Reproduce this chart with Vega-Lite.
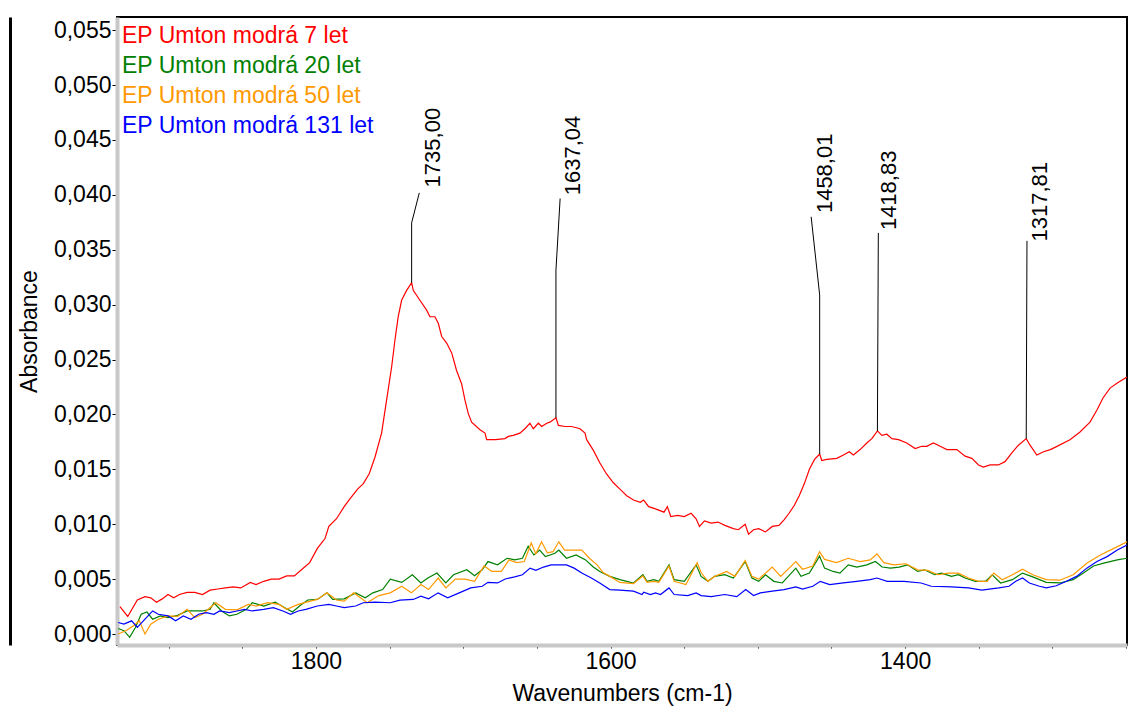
{
"$schema": "https://vega.github.io/schema/vega-lite/v6.json",
"width": 1010, "height": 628,
"autosize": {"type": "none"},
"padding": {"left": 117, "top": 17, "right": 2, "bottom": 68},
"background": "white",
"config": {
 "font": "Liberation Sans",
 "view": {"stroke": "#000000", "strokeWidth": 2},
 "axis": {"labelFont": "Liberation Sans", "titleFont": "Liberation Sans", "labelFontSize": 23, "titleFontSize": 23, "labelColor": "#000", "titleColor": "#000", "titleFontWeight": "normal", "grid": false, "tickColor": "#000", "domainColor": "#c8c8c8", "domainWidth": 4}
},
"datasets": {
"spec": [
{"s":"7 let","w":1933,"a":0.0025},{"s":"7 let","w":1927.7,"a":0.0016},{"s":"7 let","w":1921.2,"a":0.0031},{"s":"7 let","w":1916,"a":0.0034},{"s":"7 let","w":1912.1,"a":0.0033},{"s":"7 let","w":1908.2,"a":0.0029},{"s":"7 let","w":1904.3,"a":0.0032},{"s":"7 let","w":1900.4,"a":0.0036},{"s":"7 let","w":1896.5,"a":0.0033},{"s":"7 let","w":1892.6,"a":0.0036},{"s":"7 let","w":1887.4,"a":0.0038},{"s":"7 let","w":1882.2,"a":0.0038},{"s":"7 let","w":1877,"a":0.0036},{"s":"7 let","w":1871.8,"a":0.004},{"s":"7 let","w":1866.6,"a":0.0041},{"s":"7 let","w":1861.4,"a":0.0042},{"s":"7 let","w":1856.2,"a":0.0043},{"s":"7 let","w":1851,"a":0.0042},{"s":"7 let","w":1844.5,"a":0.0047},{"s":"7 let","w":1840.6,"a":0.0045},{"s":"7 let","w":1835.4,"a":0.0048},{"s":"7 let","w":1830.2,"a":0.005},{"s":"7 let","w":1825,"a":0.005},{"s":"7 let","w":1819.8,"a":0.0053},{"s":"7 let","w":1814.6,"a":0.0053},{"s":"7 let","w":1809.4,"a":0.0059},{"s":"7 let","w":1804.2,"a":0.0065},{"s":"7 let","w":1799,"a":0.0078},{"s":"7 let","w":1793.8,"a":0.0087},{"s":"7 let","w":1791.2,"a":0.0098},{"s":"7 let","w":1786,"a":0.0105},{"s":"7 let","w":1780.8,"a":0.0116},{"s":"7 let","w":1776.9,"a":0.0123},{"s":"7 let","w":1771.7,"a":0.0132},{"s":"7 let","w":1767.8,"a":0.0137},{"s":"7 let","w":1763.8,"a":0.0146},{"s":"7 let","w":1759.9,"a":0.0161},{"s":"7 let","w":1755.4,"a":0.0183},{"s":"7 let","w":1752,"a":0.0213},{"s":"7 let","w":1748.6,"a":0.0243},{"s":"7 let","w":1746.3,"a":0.0268},{"s":"7 let","w":1744.1,"a":0.0289},{"s":"7 let","w":1741.8,"a":0.0304},{"s":"7 let","w":1738.4,"a":0.0313},{"s":"7 let","w":1735,"a":0.032},{"s":"7 let","w":1733.9,"a":0.0313},{"s":"7 let","w":1729.4,"a":0.0304},{"s":"7 let","w":1724.8,"a":0.0295},{"s":"7 let","w":1722.6,"a":0.0289},{"s":"7 let","w":1719.2,"a":0.0289},{"s":"7 let","w":1716.9,"a":0.0283},{"s":"7 let","w":1714.6,"a":0.0271},{"s":"7 let","w":1711.2,"a":0.0265},{"s":"7 let","w":1707.8,"a":0.0256},{"s":"7 let","w":1704.5,"a":0.024},{"s":"7 let","w":1701.1,"a":0.0228},{"s":"7 let","w":1698.8,"a":0.0213},{"s":"7 let","w":1696.6,"a":0.0201},{"s":"7 let","w":1694.3,"a":0.0193},{"s":"7 let","w":1688.6,"a":0.0186},{"s":"7 let","w":1685.2,"a":0.0183},{"s":"7 let","w":1684.1,"a":0.0177},{"s":"7 let","w":1678,"a":0.0177},{"s":"7 let","w":1671.6,"a":0.0178},{"s":"7 let","w":1669.4,"a":0.018},{"s":"7 let","w":1666,"a":0.0181},{"s":"7 let","w":1661.5,"a":0.0183},{"s":"7 let","w":1658.1,"a":0.0187},{"s":"7 let","w":1654.7,"a":0.0192},{"s":"7 let","w":1652.4,"a":0.0187},{"s":"7 let","w":1649,"a":0.0192},{"s":"7 let","w":1646.7,"a":0.0189},{"s":"7 let","w":1643.3,"a":0.0192},{"s":"7 let","w":1641.1,"a":0.0193},{"s":"7 let","w":1637,"a":0.0197},{"s":"7 let","w":1635.4,"a":0.019},{"s":"7 let","w":1630.9,"a":0.0189},{"s":"7 let","w":1626.3,"a":0.0189},{"s":"7 let","w":1620.7,"a":0.0187},{"s":"7 let","w":1617.3,"a":0.0183},{"s":"7 let","w":1616.2,"a":0.0177},{"s":"7 let","w":1611.5,"a":0.0167},{"s":"7 let","w":1607.3,"a":0.0156},{"s":"7 let","w":1602.8,"a":0.0146},{"s":"7 let","w":1598.2,"a":0.0138},{"s":"7 let","w":1593.6,"a":0.0132},{"s":"7 let","w":1589,"a":0.0126},{"s":"7 let","w":1584.4,"a":0.0122},{"s":"7 let","w":1579.8,"a":0.012},{"s":"7 let","w":1577.5,"a":0.0122},{"s":"7 let","w":1574.1,"a":0.0116},{"s":"7 let","w":1569.5,"a":0.0114},{"s":"7 let","w":1563.7,"a":0.0111},{"s":"7 let","w":1561.4,"a":0.0116},{"s":"7 let","w":1559.1,"a":0.0107},{"s":"7 let","w":1554.5,"a":0.0108},{"s":"7 let","w":1549.9,"a":0.0107},{"s":"7 let","w":1545.3,"a":0.011},{"s":"7 let","w":1541.9,"a":0.0105},{"s":"7 let","w":1539.6,"a":0.0098},{"s":"7 let","w":1536.2,"a":0.0103},{"s":"7 let","w":1531.6,"a":0.0101},{"s":"7 let","w":1527,"a":0.0102},{"s":"7 let","w":1522.4,"a":0.0099},{"s":"7 let","w":1516.6,"a":0.0096},{"s":"7 let","w":1513.2,"a":0.0095},{"s":"7 let","w":1508.6,"a":0.01},{"s":"7 let","w":1506.3,"a":0.0091},{"s":"7 let","w":1502.9,"a":0.0095},{"s":"7 let","w":1499.4,"a":0.0096},{"s":"7 let","w":1494.8,"a":0.0093},{"s":"7 let","w":1490.2,"a":0.0098},{"s":"7 let","w":1485.7,"a":0.0099},{"s":"7 let","w":1482.2,"a":0.0104},{"s":"7 let","w":1478.8,"a":0.011},{"s":"7 let","w":1475.3,"a":0.0117},{"s":"7 let","w":1471.9,"a":0.0126},{"s":"7 let","w":1468.4,"a":0.0137},{"s":"7 let","w":1465,"a":0.015},{"s":"7 let","w":1461.5,"a":0.0159},{"s":"7 let","w":1458,"a":0.0164},{"s":"7 let","w":1456.6,"a":0.0158},{"s":"7 let","w":1453.2,"a":0.0159},{"s":"7 let","w":1446.4,"a":0.016},{"s":"7 let","w":1441.9,"a":0.0163},{"s":"7 let","w":1437.9,"a":0.0166},{"s":"7 let","w":1435.1,"a":0.0163},{"s":"7 let","w":1430.6,"a":0.0168},{"s":"7 let","w":1426,"a":0.0174},{"s":"7 let","w":1422.6,"a":0.0178},{"s":"7 let","w":1418.8,"a":0.0185},{"s":"7 let","w":1415.8,"a":0.0181},{"s":"7 let","w":1412.4,"a":0.0182},{"s":"7 let","w":1409,"a":0.0178},{"s":"7 let","w":1404.5,"a":0.0177},{"s":"7 let","w":1398.9,"a":0.0174},{"s":"7 let","w":1393.2,"a":0.0169},{"s":"7 let","w":1388.7,"a":0.0171},{"s":"7 let","w":1385.3,"a":0.0171},{"s":"7 let","w":1380.8,"a":0.0174},{"s":"7 let","w":1376.2,"a":0.0171},{"s":"7 let","w":1371.7,"a":0.0168},{"s":"7 let","w":1364.9,"a":0.0168},{"s":"7 let","w":1359.3,"a":0.0162},{"s":"7 let","w":1354.7,"a":0.016},{"s":"7 let","w":1350.2,"a":0.0154},{"s":"7 let","w":1346.9,"a":0.0152},{"s":"7 let","w":1342.3,"a":0.0154},{"s":"7 let","w":1336.7,"a":0.0154},{"s":"7 let","w":1332.2,"a":0.0157},{"s":"7 let","w":1327.6,"a":0.0165},{"s":"7 let","w":1323.1,"a":0.0172},{"s":"7 let","w":1317.8,"a":0.0178},{"s":"7 let","w":1315.2,"a":0.0172},{"s":"7 let","w":1310.6,"a":0.0163},{"s":"7 let","w":1306.1,"a":0.0166},{"s":"7 let","w":1301.5,"a":0.0168},{"s":"7 let","w":1298.3,"a":0.017},{"s":"7 let","w":1288.1,"a":0.0177},{"s":"7 let","w":1281.3,"a":0.0184},{"s":"7 let","w":1274.5,"a":0.0193},{"s":"7 let","w":1269.8,"a":0.0204},{"s":"7 let","w":1265.7,"a":0.0215},{"s":"7 let","w":1260.9,"a":0.0224},{"s":"7 let","w":1255.5,"a":0.0229},{"s":"7 let","w":1249.4,"a":0.0234},
{"s":"20 let","w":1934.2,"a":0.0005},{"s":"20 let","w":1930.3,"a":0.0003},{"s":"20 let","w":1926.4,"a":-0.0003},{"s":"20 let","w":1922.5,"a":0.0006},{"s":"20 let","w":1918.6,"a":0.0018},{"s":"20 let","w":1914.7,"a":0.002},{"s":"20 let","w":1910.8,"a":0.00135},{"s":"20 let","w":1905.6,"a":0.00165},{"s":"20 let","w":1900.4,"a":0.0015},{"s":"20 let","w":1893.9,"a":0.0017},{"s":"20 let","w":1887.4,"a":0.0021},{"s":"20 let","w":1882.2,"a":0.0021},{"s":"20 let","w":1877,"a":0.0021},{"s":"20 let","w":1871.8,"a":0.00225},{"s":"20 let","w":1869.2,"a":0.00285},{"s":"20 let","w":1864,"a":0.0021},{"s":"20 let","w":1858.8,"a":0.00165},{"s":"20 let","w":1853.6,"a":0.0018},{"s":"20 let","w":1847.1,"a":0.00225},{"s":"20 let","w":1843.2,"a":0.00285},{"s":"20 let","w":1835.4,"a":0.00255},{"s":"20 let","w":1827.6,"a":0.0029},{"s":"20 let","w":1821.1,"a":0.0024},{"s":"20 let","w":1815.9,"a":0.002},{"s":"20 let","w":1810.7,"a":0.0026},{"s":"20 let","w":1805.5,"a":0.0031},{"s":"20 let","w":1799,"a":0.00315},{"s":"20 let","w":1792.5,"a":0.00375},{"s":"20 let","w":1788.6,"a":0.00315},{"s":"20 let","w":1780.8,"a":0.0032},{"s":"20 let","w":1773,"a":0.00375},{"s":"20 let","w":1766.5,"a":0.0033},{"s":"20 let","w":1761.3,"a":0.00375},{"s":"20 let","w":1754.7,"a":0.00405},{"s":"20 let","w":1749.5,"a":0.005},{"s":"20 let","w":1741.7,"a":0.0047},{"s":"20 let","w":1734.5,"a":0.0054},{"s":"20 let","w":1728.7,"a":0.00465},{"s":"20 let","w":1724,"a":0.0051},{"s":"20 let","w":1717.8,"a":0.00555},{"s":"20 let","w":1711.8,"a":0.00465},{"s":"20 let","w":1706.6,"a":0.0054},{"s":"20 let","w":1697.5,"a":0.00585},{"s":"20 let","w":1692.3,"a":0.0053},{"s":"20 let","w":1687.1,"a":0.00585},{"s":"20 let","w":1683.2,"a":0.0066},{"s":"20 let","w":1676.7,"a":0.0063},{"s":"20 let","w":1670.2,"a":0.0069},{"s":"20 let","w":1665,"a":0.00675},{"s":"20 let","w":1659.8,"a":0.0069},{"s":"20 let","w":1655.9,"a":0.008},{"s":"20 let","w":1652,"a":0.0072},{"s":"20 let","w":1648.1,"a":0.00765},{"s":"20 let","w":1644.2,"a":0.00705},{"s":"20 let","w":1637.7,"a":0.00735},{"s":"20 let","w":1635.1,"a":0.00765},{"s":"20 let","w":1629.9,"a":0.0069},{"s":"20 let","w":1623.4,"a":0.0072},{"s":"20 let","w":1616.9,"a":0.00675},{"s":"20 let","w":1611.7,"a":0.0061},{"s":"20 let","w":1607.3,"a":0.0057},{"s":"20 let","w":1600.5,"a":0.00525},{"s":"20 let","w":1593.6,"a":0.00495},{"s":"20 let","w":1584.4,"a":0.00465},{"s":"20 let","w":1578,"a":0.0054},{"s":"20 let","w":1575.2,"a":0.0048},{"s":"20 let","w":1570.6,"a":0.00495},{"s":"20 let","w":1567.2,"a":0.0048},{"s":"20 let","w":1560.3,"a":0.0063},{"s":"20 let","w":1556.8,"a":0.00495},{"s":"20 let","w":1549.9,"a":0.0048},{"s":"20 let","w":1541.9,"a":0.0063},{"s":"20 let","w":1538.5,"a":0.00525},{"s":"20 let","w":1533.9,"a":0.0048},{"s":"20 let","w":1529.3,"a":0.00525},{"s":"20 let","w":1522.4,"a":0.0054},{"s":"20 let","w":1516.6,"a":0.0051},{"s":"20 let","w":1508.6,"a":0.0066},{"s":"20 let","w":1504,"a":0.0051},{"s":"20 let","w":1499.4,"a":0.0048},{"s":"20 let","w":1494.8,"a":0.0054},{"s":"20 let","w":1489.1,"a":0.0048},{"s":"20 let","w":1483.4,"a":0.00465},{"s":"20 let","w":1474.2,"a":0.006},{"s":"20 let","w":1470.7,"a":0.00525},{"s":"20 let","w":1465,"a":0.00555},{"s":"20 let","w":1458.1,"a":0.0071},{"s":"20 let","w":1454.7,"a":0.006},{"s":"20 let","w":1448.9,"a":0.0057},{"s":"20 let","w":1444.3,"a":0.00555},{"s":"20 let","w":1438.6,"a":0.0063},{"s":"20 let","w":1432.8,"a":0.0061},{"s":"20 let","w":1426,"a":0.0063},{"s":"20 let","w":1420.2,"a":0.0066},{"s":"20 let","w":1415.6,"a":0.0061},{"s":"20 let","w":1409.9,"a":0.006},{"s":"20 let","w":1404.1,"a":0.0061},{"s":"20 let","w":1398.4,"a":0.0063},{"s":"20 let","w":1391.5,"a":0.0057},{"s":"20 let","w":1386.9,"a":0.00585},{"s":"20 let","w":1380,"a":0.0054},{"s":"20 let","w":1375.4,"a":0.00555},{"s":"20 let","w":1368.5,"a":0.00525},{"s":"20 let","w":1363.9,"a":0.0054},{"s":"20 let","w":1359.3,"a":0.0051},{"s":"20 let","w":1352.4,"a":0.0048},{"s":"20 let","w":1345.5,"a":0.0048},{"s":"20 let","w":1340.9,"a":0.0054},{"s":"20 let","w":1335.2,"a":0.00465},{"s":"20 let","w":1327.2,"a":0.00495},{"s":"20 let","w":1320.3,"a":0.00555},{"s":"20 let","w":1313.4,"a":0.0052},{"s":"20 let","w":1304.2,"a":0.0047},{"s":"20 let","w":1295,"a":0.00465},{"s":"20 let","w":1285.9,"a":0.00495},{"s":"20 let","w":1279,"a":0.00555},{"s":"20 let","w":1272.1,"a":0.0062},{"s":"20 let","w":1265.2,"a":0.00645},{"s":"20 let","w":1256,"a":0.00675},{"s":"20 let","w":1249.4,"a":0.0069},
{"s":"50 let","w":1934.2,"a":0},{"s":"50 let","w":1929,"a":0.0003},{"s":"50 let","w":1923.8,"a":0.00075},{"s":"50 let","w":1919.9,"a":0.0012},{"s":"50 let","w":1916,"a":0},{"s":"50 let","w":1912.1,"a":0.0009},{"s":"50 let","w":1906.9,"a":0.00135},{"s":"50 let","w":1900.4,"a":0.00165},{"s":"50 let","w":1893.9,"a":0.0016},{"s":"50 let","w":1887.4,"a":0.00225},{"s":"50 let","w":1882.2,"a":0.0015},{"s":"50 let","w":1877,"a":0.0018},{"s":"50 let","w":1873.1,"a":0.00225},{"s":"50 let","w":1867.9,"a":0.00285},{"s":"50 let","w":1861.4,"a":0.00225},{"s":"50 let","w":1853.6,"a":0.0022},{"s":"50 let","w":1845.8,"a":0.0027},{"s":"50 let","w":1840.6,"a":0.00255},{"s":"50 let","w":1832.8,"a":0.00285},{"s":"50 let","w":1825,"a":0.0027},{"s":"50 let","w":1819.8,"a":0.00225},{"s":"50 let","w":1812,"a":0.0027},{"s":"50 let","w":1803.8,"a":0.003},{"s":"50 let","w":1799,"a":0.00315},{"s":"50 let","w":1792.5,"a":0.00375},{"s":"50 let","w":1786,"a":0.0031},{"s":"50 let","w":1780.8,"a":0.003},{"s":"50 let","w":1774.3,"a":0.00375},{"s":"50 let","w":1765.2,"a":0.00285},{"s":"50 let","w":1757.3,"a":0.0035},{"s":"50 let","w":1749.5,"a":0.00375},{"s":"50 let","w":1741.7,"a":0.00435},{"s":"50 let","w":1735.2,"a":0.00375},{"s":"50 let","w":1728.7,"a":0.0045},{"s":"50 let","w":1723.5,"a":0.00405},{"s":"50 let","w":1717,"a":0.0051},{"s":"50 let","w":1711.8,"a":0.0042},{"s":"50 let","w":1705.3,"a":0.005},{"s":"50 let","w":1698.8,"a":0.005},{"s":"50 let","w":1692.3,"a":0.0048},{"s":"50 let","w":1685.8,"a":0.0062},{"s":"50 let","w":1680.6,"a":0.0057},{"s":"50 let","w":1674.1,"a":0.0057},{"s":"50 let","w":1668.9,"a":0.00675},{"s":"50 let","w":1663.7,"a":0.0065},{"s":"50 let","w":1658.5,"a":0.0066},{"s":"50 let","w":1653.8,"a":0.0083},{"s":"50 let","w":1650.7,"a":0.0073},{"s":"50 let","w":1646.8,"a":0.0084},{"s":"50 let","w":1642.9,"a":0.0074},{"s":"50 let","w":1639,"a":0.0075},{"s":"50 let","w":1635.1,"a":0.0084},{"s":"50 let","w":1631.2,"a":0.00765},{"s":"50 let","w":1624.7,"a":0.00765},{"s":"50 let","w":1619.5,"a":0.00765},{"s":"50 let","w":1614.3,"a":0.0069},{"s":"50 let","w":1609.1,"a":0.0063},{"s":"50 let","w":1605,"a":0.0056},{"s":"50 let","w":1600.5,"a":0.00525},{"s":"50 let","w":1593.6,"a":0.0047},{"s":"50 let","w":1584.4,"a":0.0046},{"s":"50 let","w":1578,"a":0.0053},{"s":"50 let","w":1575.2,"a":0.0047},{"s":"50 let","w":1570.6,"a":0.0048},{"s":"50 let","w":1567.2,"a":0.0047},{"s":"50 let","w":1560.3,"a":0.0062},{"s":"50 let","w":1556.8,"a":0.0048},{"s":"50 let","w":1548.8,"a":0.0045},{"s":"50 let","w":1541.2,"a":0.0065},{"s":"50 let","w":1538.5,"a":0.0056},{"s":"50 let","w":1533.9,"a":0.0048},{"s":"50 let","w":1529.3,"a":0.00525},{"s":"50 let","w":1521.2,"a":0.0057},{"s":"50 let","w":1515.5,"a":0.00525},{"s":"50 let","w":1508.6,"a":0.0067},{"s":"50 let","w":1504,"a":0.00525},{"s":"50 let","w":1499.4,"a":0.005},{"s":"50 let","w":1490.2,"a":0.0061},{"s":"50 let","w":1484.5,"a":0.00525},{"s":"50 let","w":1474.2,"a":0.0066},{"s":"50 let","w":1469.6,"a":0.0059},{"s":"50 let","w":1462.7,"a":0.0062},{"s":"50 let","w":1458.1,"a":0.0075},{"s":"50 let","w":1454.7,"a":0.0068},{"s":"50 let","w":1446.6,"a":0.0065},{"s":"50 let","w":1438.6,"a":0.0069},{"s":"50 let","w":1430.5,"a":0.0066},{"s":"50 let","w":1423.7,"a":0.00675},{"s":"50 let","w":1419.1,"a":0.0073},{"s":"50 let","w":1414.5,"a":0.0065},{"s":"50 let","w":1407.6,"a":0.0063},{"s":"50 let","w":1399.5,"a":0.0064},{"s":"50 let","w":1391.5,"a":0.00585},{"s":"50 let","w":1384.6,"a":0.0058},{"s":"50 let","w":1377.7,"a":0.0054},{"s":"50 let","w":1370.8,"a":0.00555},{"s":"50 let","w":1363.9,"a":0.00555},{"s":"50 let","w":1357,"a":0.0051},{"s":"50 let","w":1350.2,"a":0.0048},{"s":"50 let","w":1344.4,"a":0.0048},{"s":"50 let","w":1339.8,"a":0.00555},{"s":"50 let","w":1334.1,"a":0.00495},{"s":"50 let","w":1327.2,"a":0.0054},{"s":"50 let","w":1320.3,"a":0.0059},{"s":"50 let","w":1313.4,"a":0.0054},{"s":"50 let","w":1304.2,"a":0.00495},{"s":"50 let","w":1295,"a":0.0049},{"s":"50 let","w":1285.9,"a":0.0054},{"s":"50 let","w":1276.7,"a":0.00645},{"s":"50 let","w":1267.5,"a":0.0072},{"s":"50 let","w":1258.3,"a":0.0078},{"s":"50 let","w":1249.4,"a":0.0084},
{"s":"131 let","w":1934.2,"a":0.00105},{"s":"131 let","w":1930.3,"a":0.0009},{"s":"131 let","w":1925.1,"a":0.0012},{"s":"131 let","w":1921.2,"a":0.0006},{"s":"131 let","w":1916,"a":0.00135},{"s":"131 let","w":1910.8,"a":0.0021},{"s":"131 let","w":1906.9,"a":0.0018},{"s":"131 let","w":1900.4,"a":0.00165},{"s":"131 let","w":1895.2,"a":0.0012},{"s":"131 let","w":1890,"a":0.00165},{"s":"131 let","w":1884.8,"a":0.00135},{"s":"131 let","w":1879.6,"a":0.0018},{"s":"131 let","w":1874.4,"a":0.00195},{"s":"131 let","w":1869.2,"a":0.0018},{"s":"131 let","w":1865.3,"a":0.0021},{"s":"131 let","w":1858.8,"a":0.00195},{"s":"131 let","w":1853.6,"a":0.0021},{"s":"131 let","w":1848.4,"a":0.00225},{"s":"131 let","w":1843.2,"a":0.0021},{"s":"131 let","w":1835.4,"a":0.00225},{"s":"131 let","w":1828.9,"a":0.0024},{"s":"131 let","w":1822.4,"a":0.0021},{"s":"131 let","w":1817.2,"a":0.0018},{"s":"131 let","w":1812,"a":0.0021},{"s":"131 let","w":1806.8,"a":0.00225},{"s":"131 let","w":1799,"a":0.00255},{"s":"131 let","w":1791.2,"a":0.0027},{"s":"131 let","w":1786,"a":0.00255},{"s":"131 let","w":1780.8,"a":0.0024},{"s":"131 let","w":1773,"a":0.00255},{"s":"131 let","w":1767.8,"a":0.00285},{"s":"131 let","w":1759.9,"a":0.00291},{"s":"131 let","w":1749.5,"a":0.00285},{"s":"131 let","w":1743,"a":0.00309},{"s":"131 let","w":1733.9,"a":0.00315},{"s":"131 let","w":1728.7,"a":0.00345},{"s":"131 let","w":1723.5,"a":0.00321},{"s":"131 let","w":1717,"a":0.00375},{"s":"131 let","w":1710.5,"a":0.0033},{"s":"131 let","w":1702.7,"a":0.00375},{"s":"131 let","w":1694.9,"a":0.0042},{"s":"131 let","w":1687.1,"a":0.00435},{"s":"131 let","w":1683.2,"a":0.00471},{"s":"131 let","w":1676.7,"a":0.00465},{"s":"131 let","w":1671.5,"a":0.00501},{"s":"131 let","w":1665,"a":0.0052},{"s":"131 let","w":1659.8,"a":0.0054},{"s":"131 let","w":1654.6,"a":0.006},{"s":"131 let","w":1650.7,"a":0.0058},{"s":"131 let","w":1645.5,"a":0.0061},{"s":"131 let","w":1640.3,"a":0.0063},{"s":"131 let","w":1635.1,"a":0.0063},{"s":"131 let","w":1629.9,"a":0.0063},{"s":"131 let","w":1624.7,"a":0.006},{"s":"131 let","w":1619.5,"a":0.00556},{"s":"131 let","w":1613,"a":0.0051},{"s":"131 let","w":1607.3,"a":0.00465},{"s":"131 let","w":1600.5,"a":0.00405},{"s":"131 let","w":1593.6,"a":0.004},{"s":"131 let","w":1584.4,"a":0.0039},{"s":"131 let","w":1578.6,"a":0.0036},{"s":"131 let","w":1577.5,"a":0.0038},{"s":"131 let","w":1572.9,"a":0.0036},{"s":"131 let","w":1569.5,"a":0.00375},{"s":"131 let","w":1566,"a":0.0036},{"s":"131 let","w":1560.3,"a":0.0042},{"s":"131 let","w":1556.8,"a":0.0036},{"s":"131 let","w":1547.6,"a":0.0035},{"s":"131 let","w":1541.9,"a":0.00375},{"s":"131 let","w":1538.5,"a":0.0035},{"s":"131 let","w":1531.6,"a":0.0034},{"s":"131 let","w":1522.4,"a":0.0036},{"s":"131 let","w":1514.3,"a":0.0034},{"s":"131 let","w":1508.2,"a":0.00405},{"s":"131 let","w":1502.9,"a":0.0035},{"s":"131 let","w":1498.3,"a":0.00375},{"s":"131 let","w":1490.2,"a":0.0039},{"s":"131 let","w":1482.2,"a":0.00405},{"s":"131 let","w":1474.2,"a":0.0043},{"s":"131 let","w":1469.6,"a":0.0041},{"s":"131 let","w":1462.7,"a":0.00435},{"s":"131 let","w":1457.6,"a":0.0048},{"s":"131 let","w":1451.2,"a":0.0045},{"s":"131 let","w":1442,"a":0.00465},{"s":"131 let","w":1432.8,"a":0.0048},{"s":"131 let","w":1423.7,"a":0.00495},{"s":"131 let","w":1419.1,"a":0.0051},{"s":"131 let","w":1412.2,"a":0.0048},{"s":"131 let","w":1400.7,"a":0.0048},{"s":"131 let","w":1389.2,"a":0.00465},{"s":"131 let","w":1382.3,"a":0.00435},{"s":"131 let","w":1368.5,"a":0.0043},{"s":"131 let","w":1357,"a":0.0042},{"s":"131 let","w":1347.9,"a":0.004},{"s":"131 let","w":1336.4,"a":0.0042},{"s":"131 let","w":1329.5,"a":0.00435},{"s":"131 let","w":1324.9,"a":0.0048},{"s":"131 let","w":1320.3,"a":0.0051},{"s":"131 let","w":1315.7,"a":0.00465},{"s":"131 let","w":1308.8,"a":0.00435},{"s":"131 let","w":1304.2,"a":0.0042},{"s":"131 let","w":1297.4,"a":0.0044},{"s":"131 let","w":1290.5,"a":0.0048},{"s":"131 let","w":1283.6,"a":0.00525},{"s":"131 let","w":1276.7,"a":0.006},{"s":"131 let","w":1269.8,"a":0.0066},{"s":"131 let","w":1262.9,"a":0.00705},{"s":"131 let","w":1256,"a":0.00765},{"s":"131 let","w":1249.4,"a":0.0081}
],
"leaders": [
{"x":1735.0,"y":0.0320,"x2":1735.0,"y2":0.03745},{"x":1735.0,"y":0.03745,"x2":1729.8,"y2":0.04018},
{"x":1637.04,"y":0.0197,"x2":1637.04,"y2":0.03315},{"x":1637.04,"y":0.03315,"x2":1634.2,"y2":0.03967},
{"x":1458.01,"y":0.0164,"x2":1458.01,"y2":0.03087},{"x":1458.01,"y":0.03087,"x2":1463.8,"y2":0.0380},
{"x":1418.83,"y":0.0185,"x2":1418.2,"y2":0.03654},
{"x":1317.81,"y":0.0178,"x2":1317.3,"y2":0.03581}
],
"labels": [
{"label":"1735,00","x":1720.3,"y":0.04068},
{"label":"1637,04","x":1625.6,"y":0.03997},
{"label":"1458,01","x":1454.3,"y":0.03834},
{"label":"1418,83","x":1410.8,"y":0.03679},
{"label":"1317,81","x":1308.3,"y":0.03575}
]
},
"resolve": {"axis": {"y": "independent"}},
"layer": [
{"data": {"name": "spec"},
 "mark": {"type": "line", "strokeWidth": 1.2, "clip": true},
 "encoding": {
  "x": {"field": "w", "type": "quantitative", "title": "Wavenumbers (cm-1)",
   "scale": {"domain": [1249.4, 1935], "reverse": true, "nice": false, "zero": false},
   "axis": {"values": [1900,1850,1800,1750,1700,1650,1600,1550,1500,1450,1400,1350,1300,1250], "labelExpr": "datum.value % 200 === 0 ? format(datum.value, 'd') : ''", "tickSize": 3, "labelPadding": 2, "titlePadding": 9, "labelFlush": false}},
  "y": {"field": "a", "type": "quantitative", "title": "Absorbance",
   "scale": {"domain": [-0.001, 0.0562], "nice": false, "zero": false},
   "axis": {"values": [0,0.005,0.01,0.015,0.02,0.025,0.03,0.035,0.04,0.045,0.05,0.055], "labelExpr": "replace(format(datum.value, '.3f'), '.', ',')", "tickSize": 5, "labelPadding": 1, "titlePadding": 12, "labelFlush": false}},
  "color": {"field": "s", "type": "nominal",
   "scale": {"domain": ["7 let", "20 let", "50 let", "131 let"], "range": ["#ff0000", "#008000", "#ff9900", "#0000ff"]},
   "legend": {"orient": "none", "legendX": -18, "legendY": 7, "title": null, "symbolSize": 0, "symbolStrokeWidth": 0, "symbolOpacity": 0, "labelFontSize": 23, "labelFont": "Liberation Sans", "labelOffset": 0, "rowPadding": 6, "padding": 0, "labelLimit": 0, "labelExpr": "'EP Umton modrá ' + datum.label",
    "encode": {"labels": {"update": {"fill": {"scale": "color", "field": "value"}}}}}}
 }},
{"data": {"name": "leaders"},
 "mark": {"type": "rule", "color": "#000000", "strokeWidth": 1},
 "encoding": {
  "x": {"field": "x", "type": "quantitative", "title": "Wavenumbers (cm-1)"},
  "x2": {"field": "x2"},
  "y": {"field": "y", "type": "quantitative", "axis": null},
  "y2": {"field": "y2"}
 }},
{"data": {"name": "labels"},
 "mark": {"type": "text", "angle": 270, "align": "left", "baseline": "middle", "fontSize": 22, "font": "Liberation Sans", "color": "#000000"},
 "encoding": {
  "x": {"field": "x", "type": "quantitative", "title": "Wavenumbers (cm-1)"},
  "y": {"field": "y", "type": "quantitative", "axis": {"orient": "left", "offset": 107, "domainColor": "#000000", "domainWidth": 3, "ticks": false, "labels": false, "title": null}},
  "text": {"field": "label"}
 }}
]
}
